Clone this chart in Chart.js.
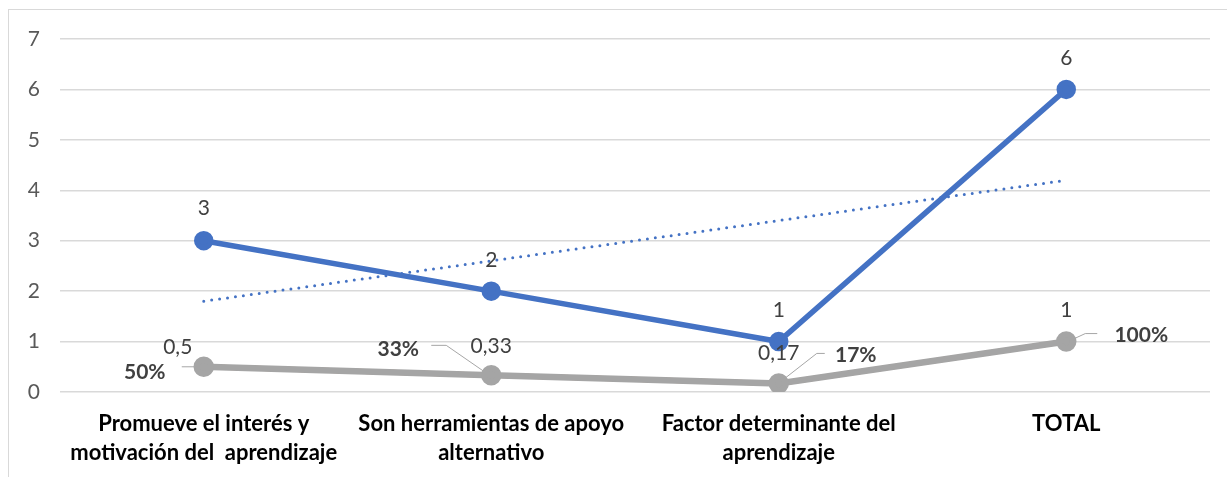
<!DOCTYPE html>
<html>
<head>
<meta charset="utf-8">
<script src="https://cdn.jsdelivr.net/npm/chart.js@4.4.1/dist/chart.umd.min.js"></script>
<style>
  html, body { margin: 0; padding: 0; background: #fff; }
  .wrap { position: relative; width: 1227px; height: 477px; overflow: hidden; }
  .frame { position: absolute; left: 8px; top: 9px; width: 1240px; height: 500px; border: 1px solid #d9d9d9; }
  canvas { position: absolute; left: 0; top: 0; }
</style>
</head>
<body>
<div class="wrap">
  <div class="frame"></div>
  <canvas id="chart" width="1227" height="477"></canvas>
</div>
<script>
// ─── Data ───────────────────────────────────────────────────────
const categories = [
  ['Promueve el interés y', 'motivación del  aprendizaje'],
  ['Son herramientas de apoyo', 'alternativo'],
  ['Factor determinante del', 'aprendizaje'],
  'TOTAL'
];
const frecuencia = [3, 2, 1, 6];
const proporcion = [0.5, 0.33, 0.17, 1];
const porcentaje = [0.5, 0.33, 0.17, 1];
const yTicks = [0, 1, 2, 3, 4, 5, 6, 7];

// linear trend of frecuencia (least squares)
function linearTrend(ys) {
  const n = ys.length;
  const xs = ys.map((_, i) => i + 1);
  const mx = xs.reduce((a, b) => a + b, 0) / n;
  const my = ys.reduce((a, b) => a + b, 0) / n;
  let num = 0, den = 0;
  xs.forEach((x, i) => { num += (x - mx) * (ys[i] - my); den += (x - mx) ** 2; });
  const m = num / den;
  return xs.map(x => my + m * (x - mx));
}
const tendencia = linearTrend(frecuencia);

const FONT = 'Lato, "Open Sans", sans-serif';
const fmtDec = v => String(v).replace('.', ',');
const fmtPct = v => Math.round(v * 100) + '%';

// label placement (offsets from the point, px)
const labelStyle = {
  0: { fmt: fmtDec, bold: false, offs: [[0, -32], [0, -31], [0, -31], [0, -31]] },
  2: { fmt: fmtDec, bold: false, offs: [[-26, -20], [0, -29], [0, -30], [0, -31]] },
  3: { fmt: fmtPct, bold: true,
       offs: [[-59, 5], [-93, -26], [77, -28], [75, -6]],
       leaders: [
         [[-8, 0], [-22, 0]],
         [[-6, -3], [-45, -30], [-60, -30]],
         [[6, -5], [38, -30], [46, -30]],
         [[6, -2], [19, -8], [31, -8]]
       ] }
};

const pointLabels = {
  id: 'pointLabels',
  afterDatasetsDraw(chart) {
    const ctx = chart.ctx;
    ctx.save();
    Object.keys(labelStyle).forEach(di => {
      const st = labelStyle[di];
      const meta = chart.getDatasetMeta(+di);
      const data = chart.data.datasets[di].data;
      meta.data.forEach((pt, i) => {
        if (st.leaders) {
          ctx.strokeStyle = '#a6a6a6';
          ctx.lineWidth = 1;
          ctx.beginPath();
          st.leaders[i].forEach(([dx, dy], k) => {
            if (k === 0) ctx.moveTo(pt.x + dx, pt.y + dy);
            else ctx.lineTo(pt.x + dx, pt.y + dy);
          });
          ctx.stroke();
        }
        ctx.font = (st.bold ? 'bold ' : '') + '21px ' + FONT;
        ctx.fillStyle = '#404040';
        ctx.textAlign = 'center';
        ctx.textBaseline = 'middle';
        const [dx, dy] = st.offs[i];
        ctx.fillText(st.fmt(data[i]), pt.x + dx, pt.y + dy);
      });
    });
    ctx.restore();
  }
};

new Chart(document.getElementById('chart'), {
  type: 'line',
  data: {
    labels: categories,
    datasets: [
      {
        label: 'Frecuencia',
        data: frecuencia,
        borderColor: '#4472C4',
        backgroundColor: '#4472C4',
        borderWidth: 5.5,
        pointRadius: 7,
        pointHoverRadius: 7,
        tension: 0
      },
      {
        label: 'Lineal (Frecuencia)',
        data: tendencia,
        borderColor: '#4472C4',
        borderWidth: 3,
        borderDash: [0, 8],
        borderCapStyle: 'round',
        pointRadius: 0,
        tension: 0
      },
      {
        label: 'Proporción',
        data: proporcion,
        borderColor: '#A5A5A5',
        backgroundColor: '#A5A5A5',
        borderWidth: 6.5,
        pointRadius: 7,
        pointHoverRadius: 7,
        tension: 0
      },
      {
        label: 'Porcentaje',
        data: porcentaje,
        borderColor: '#ED7D31',
        backgroundColor: '#ED7D31',
        borderWidth: 5,
        pointRadius: 5,
        tension: 0
      }
    ]
  },
  options: {
    responsive: false,
    animation: false,
    layout: { padding: { top: 39, right: 17, left: 8, bottom: 0 } },
    plugins: {
      legend: { display: false },
      tooltip: { enabled: false }
    },
    scales: {
      x: {
        offset: true,
        grid: { display: false },
        border: { display: false },
        ticks: {
          color: '#000',
          padding: 9,
          maxRotation: 0,
          autoSkip: false,
          font: { family: FONT, size: 22, weight: 'bold', lineHeight: 1.32 }
        },
        afterFit(scale) { scale.height = 85; }
      },
      y: {
        min: 0,
        max: 7,
        afterBuildTicks(scale) { scale.ticks = yTicks.map(v => ({ value: v })); },
        grid: { color: '#d9d9d9', lineWidth: 1.5, drawTicks: false },
        border: { display: false },
        ticks: {
          color: '#595959',
          padding: 20,
          font: { family: FONT, size: 21 }
        },
        afterFit(scale) { scale.width = 52; }
      }
    }
  },
  plugins: [pointLabels]
});
</script>
</body>
</html>
